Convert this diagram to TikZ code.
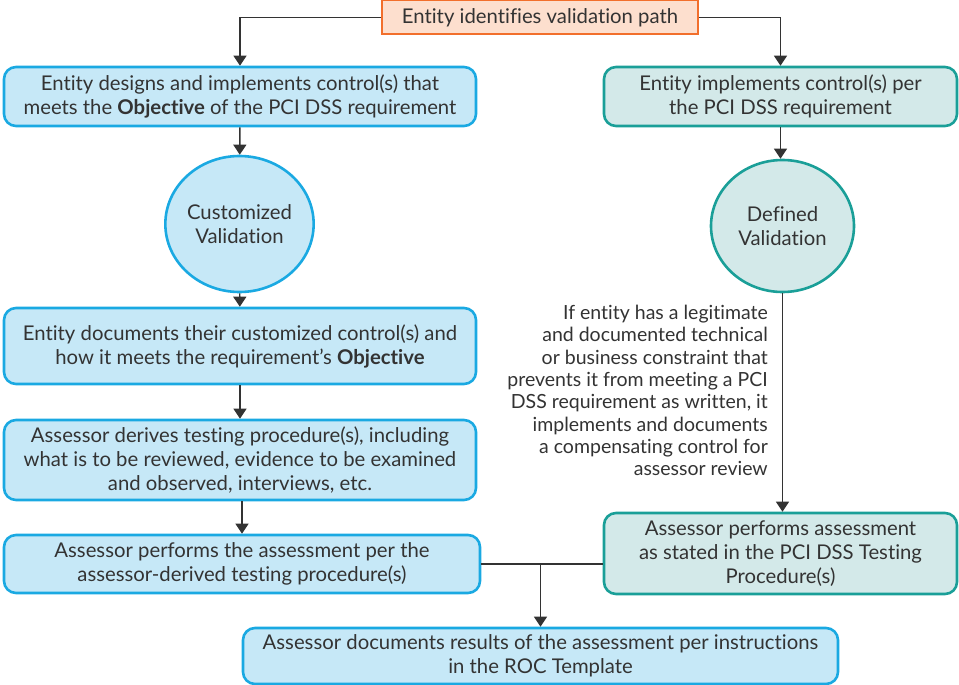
\documentclass[tikz,border=0pt]{standalone}
\usepackage{fontspec}
\setmainfont{Lato}[Ligatures=NoCommon]
\usetikzlibrary{arrows.meta,shapes.geometric}
\definecolor{startfill}{HTML}{FDDFCE}
\definecolor{startline}{HTML}{F26F2C}
\definecolor{custfill}{HTML}{C6E8F7}
\definecolor{custline}{HTML}{1AA9E2}
\definecolor{deffill}{HTML}{D3E9E9}
\definecolor{defline}{HTML}{1A9F98}
\definecolor{inkgray}{HTML}{333333}

\begin{document}
\begin{tikzpicture}[x=1pt,y=-1pt,
		font=\fontsize{20.3}{24}\selectfont, text=inkgray,
		startbox/.style={draw=startline, fill=startfill, line width=2pt, inner sep=0pt, minimum width=316pt, minimum height=34pt},
		custbox/.style={draw=custline, fill=custfill, line width=2.6pt, rounded corners=12pt, inner sep=0pt, align=center},
		defbox/.style={draw=defline, fill=deffill, line width=2.6pt, rounded corners=12pt, inner sep=0pt, align=center},
		custoval/.style={ellipse, draw=custline, fill=custfill, line width=2.6pt, inner sep=0pt, minimum width=143pt, minimum height=136pt, align=center},
		defoval/.style={ellipse, draw=defline, fill=deffill, line width=2.6pt, inner sep=0pt, minimum width=143pt, minimum height=132pt, align=center},
		arr/.style={draw=inkgray, line width=1.4pt, -{Triangle[length=10pt,width=13pt]}},
		link/.style={draw=inkgray, line width=1.4pt}]
			%%%%% START %%%%%
			\useasboundingbox (0, 0) rectangle (959, 685);
			
			\node[startbox] (start) at (540, 17.5) {Entity identifies validation path};
			
			% customized path
			\node[custbox, minimum width=472pt, minimum height=59pt] (cdesign) at (240, 96.5)
				{Entity designs and implements control(s) that\\ meets the \textbf{Objective} of the PCI DSS requirement};
			\node[custoval] (cval) at (239.5, 224) {Customized\\ Validation};
			\node[custbox, minimum width=472pt, minimum height=76pt] (cdoc) at (240, 346)
				{Entity documents their customized control(s) and\\ how it meets the requirement’s \textbf{Objective}};
			\node[custbox, minimum width=472pt, minimum height=80pt] (cderive) at (240, 460)
				{Assessor derives testing procedure(s), including\\ what is to be reviewed, evidence to be examined\\ and observed, interviews, etc.};
			\node[custbox, minimum width=476pt, minimum height=58pt] (cassess) at (242, 564)
				{Assessor performs the assessment per the\\ assessor-derived testing procedure(s)};
			
			% defined path
			\node[defbox, minimum width=353pt, minimum height=59pt] (dimpl) at (780.5, 96.5)
				{Entity implements control(s) per\\ the PCI DSS requirement};
			\node[defoval] (dval) at (782.5, 226) {Defined\\ Validation};
			\node[anchor=north east, align=right, inner sep=0pt, font=\fontsize{19.5}{22.3}\selectfont] (comp) at (768, 305)
				{If entity has a legitimate\\ and documented technical\\ or business constraint that\\ prevents it from meeting a PCI\\ DSS requirement as written, it\\ implements and documents\\ a compensating control for\\ assessor review};
			\node[defbox, minimum width=353pt, minimum height=81pt] (dassess) at (780.5, 553.5)
				{Assessor performs assessment\\ as stated in the PCI DSS Testing\\ Procedure(s)};
			
			\node[custbox, minimum width=595pt, minimum height=56pt] (roc) at (540.5, 656)
				{Assessor documents results of the assessment per instructions\\ in the ROC Template};
			
			\draw[arr] (start.west) -| (cdesign.north);
			\draw[arr] (start.east) -| (dimpl.north);
			
			\draw[arr] (cdesign) -- (cval);
			\draw[arr] (cval) -- (cdoc);
			\draw[arr] (cdoc) -- (cderive);
			\draw[arr] (cderive.south -| cassess.north) -- (cassess.north);
			
			\draw[arr] (dimpl) -- (dimpl |- dval.north);
			\draw[arr] (dval.south) -- (dval.south |- dassess.north);
			
			\draw[link] (cassess.east) -- (cassess.east -| dassess.west);
			\draw[arr] (cassess.east -| roc.north) -- (roc.north);
			%%%%% END %%%%%
		\end{tikzpicture}
\end{document}
